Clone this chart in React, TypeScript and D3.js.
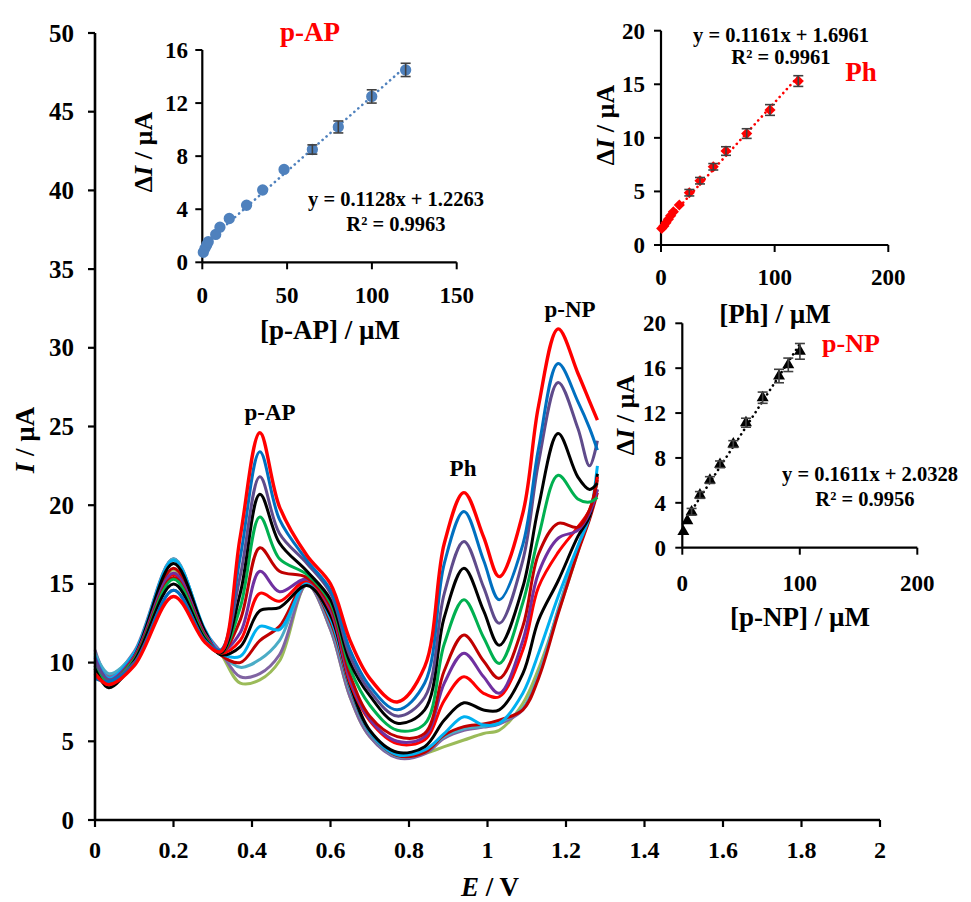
import React from 'react';
import * as d3 from 'd3';

const FONT = "'Liberation Serif', 'Times New Roman', Times, 'DejaVu Serif', serif";

// ---------- main voltammograms ----------
const potentials = [0, 0.035, 0.1, 0.2, 0.28, 0.32, 0.37, 0.42, 0.47, 0.54, 0.6, 0.65, 0.7, 0.77, 0.84, 0.89, 0.94, 0.99, 1.03, 1.09, 1.13, 1.18, 1.23, 1.26, 1.28];

const c01 = [10.2, 9.2, 10.6, 15.9, 11.9, 10.6, 8.7, 8.9, 10.1, 15.0, 12.1, 7.8, 5.3, 4.0, 4.24, 4.66, 5.08, 5.5, 5.7, 7.4, 9.6, 13.2, 17.0, 19.5, 21.0];
const c02 = [10.8, 9.1, 10.7, 16.6, 12.0, 10.7, 9.1, 9.3, 10.5, 15.0, 12.1, 7.8, 5.3, 3.95, 4.2, 5.2, 5.7, 5.9, 6.1, 7.0, 9.2, 13.3, 17.3, 19.5, 21.0];
const c03 = [10.6, 9.3, 10.6, 16.6, 12.0, 10.6, 9.7, 10.2, 11.4, 15.1, 12.4, 8.2, 5.5, 4.05, 4.3, 5.3, 5.8, 5.95, 6.2, 7.1, 9.2, 13.4, 17.2, 19.2, 21.8];
const c04 = [10.0, 8.9, 10.5, 16.0, 11.9, 10.5, 10.0, 11.4, 12.3, 15.1, 12.6, 8.4, 5.6, 4.1, 4.3, 5.4, 5.93, 6.1, 6.35, 7.0, 9.0, 13.1, 17.0, 19.1, 20.8];
const c05 = [10.4, 9.0, 10.6, 16.5, 12.1, 10.6, 10.4, 12.3, 12.1, 15.1, 12.8, 8.5, 5.6, 4.15, 4.45, 5.5, 6.56, 6.03, 6.14, 8.05, 10.6, 14.2, 17.4, 19.3, 22.5];
const c06 = [9.8, 8.6, 10.4, 16.3, 12.0, 10.5, 11.0, 13.3, 13.5, 14.9, 13.0, 8.6, 5.7, 4.3, 4.66, 6.35, 7.45, 6.99, 7.0, 9.3, 12.7, 15.2, 18.0, 19.3, 22.0];
const c07 = [9.6, 8.8, 10.3, 15.6, 11.8, 10.6, 11.4, 14.4, 13.9, 15.2, 13.3, 8.7, 6.3, 4.85, 5.1, 7.6, 9.1, 8.05, 7.83, 10.8, 14.8, 17.0, 18.6, 19.7, 21.8];
const c08 = [10.3, 8.9, 10.4, 15.7, 11.8, 10.7, 11.9, 15.8, 14.5, 15.3, 13.4, 8.9, 6.4, 5.0, 5.3, 8.7, 10.6, 9.1, 8.05, 11.4, 15.7, 17.9, 18.4, 19.5, 21.0];
const c09 = [9.5, 8.7, 10.3, 15.4, 11.7, 10.6, 12.7, 17.3, 15.8, 15.4, 13.6, 9.2, 6.6, 5.3, 5.5, 9.5, 11.75, 10.1, 9.0, 12.3, 16.9, 18.85, 18.6, 19.7, 21.6];
const c10 = [9.7, 8.8, 10.2, 15.3, 11.6, 10.6, 13.5, 19.25, 16.6, 15.6, 13.8, 9.6, 7.3, 5.7, 6.1, 11.2, 14.0, 11.6, 9.95, 13.8, 18.0, 21.9, 20.4, 20.2, 20.5];
const c11 = [9.6, 8.4, 10.1, 15.0, 11.5, 10.6, 14.4, 20.7, 17.6, 15.8, 14.0, 10.0, 7.9, 6.15, 7.0, 12.9, 16.0, 13.3, 11.1, 14.8, 19.9, 24.55, 21.8, 21.0, 21.4];
const c12 = [10.1, 8.9, 10.0, 14.6, 11.4, 10.7, 15.5, 21.8, 18.2, 16.3, 14.4, 10.4, 8.2, 6.6, 7.8, 14.4, 17.7, 14.8, 12.5, 16.5, 22.7, 27.8, 24.9, 22.5, 24.1];
const c13 = [9.0, 8.8, 9.9, 14.6, 11.4, 10.8, 16.7, 23.4, 19.1, 16.5, 14.6, 10.8, 8.5, 7.0, 8.7, 16.3, 19.6, 16.5, 14.0, 17.5, 23.6, 29.0, 26.6, 24.9, 23.5];
const c14 = [9.3, 8.6, 9.8, 14.2, 11.3, 10.7, 18.0, 24.6, 19.9, 16.8, 15.0, 11.4, 9.0, 7.5, 9.74, 17.58, 20.8, 17.99, 15.46, 19.5, 26.3, 31.2, 28.4, 26.6, 25.4];

const curveColors = ['#9BBB59', '#8064A2', '#4BACC6', '#C00000', '#00B0F0', '#000000', '#FF0000', '#7030A0', '#C00000', '#00B050', '#000000', '#5F4B8B', '#0070C0', '#FF0000'];

const xTicksMain = [0, 0.2, 0.4, 0.6, 0.8, 1, 1.2, 1.4, 1.6, 1.8, 2];
const yTicksMain = [0, 5, 10, 15, 20, 25, 30, 35, 40, 45, 50];

// ---------- inset 1: p-AP ----------
const papConc = [0.6, 1.6, 2.6, 3.5, 7.9, 10.4, 15.9, 26.1, 35.6, 48.2, 64.9, 80.2, 99.9, 119.9];
const papDI = [0.75, 1.05, 1.3, 1.55, 2.1, 2.65, 3.3, 4.3, 5.45, 7.0, 8.5, 10.2, 12.5, 14.5];
const papErr = [0.1, 0.1, 0.1, 0.1, 0.15, 0.15, 0.2, 0.2, 0.2, 0.25, 0.35, 0.45, 0.5, 0.5];
const papXTicks = [0, 50, 100, 150];
const papYTicks = [0, 4, 8, 12, 16];

// ---------- inset 2: Ph ----------
const phConc = [0.6, 2.6, 4.4, 6.5, 8.5, 10.9, 16.1, 24.9, 34.3, 46.0, 57.2, 75.4, 95.9, 120.8];
const phDI = [1.55, 1.77, 2.08, 2.4, 2.74, 3.1, 3.73, 4.88, 6.0, 7.3, 8.77, 10.4, 12.6, 15.3];
const phErr = [0.1, 0.1, 0.1, 0.1, 0.15, 0.15, 0.2, 0.3, 0.3, 0.3, 0.4, 0.45, 0.5, 0.5];
const phXTicks = [0, 100, 200];
const phYTicks = [0, 5, 10, 15, 20];

// ---------- inset 3: p-NP ----------
const pnpConc = [0.9, 4.3, 7.9, 15.0, 23.5, 32.1, 43.4, 54.2, 68.4, 82.3, 90.2, 100.1];
const pnpDI = [1.43, 2.4, 3.2, 4.7, 6.03, 7.43, 9.24, 11.14, 13.37, 15.3, 16.3, 17.5];
const pnpErr = [0.15, 0.2, 0.3, 0.3, 0.3, 0.3, 0.3, 0.4, 0.5, 0.6, 0.6, 0.7];
const pnpXTicks = [0, 100, 200];
const pnpYTicks = [0, 4, 8, 12, 16, 20];

const papFit = { slope: 0.1128, intercept: 1.2263 };
const phFit = { slope: 0.1161, intercept: 1.6961 };
const pnpFit = { slope: 0.1611, intercept: 2.0328 };

type InsetProps = {
  xs: number[]; ys: number[]; errs: number[];
  xDomain: [number, number]; yDomain: [number, number];
  xRange: [number, number]; yRange: [number, number];
  xTicks: number[]; yTicks: number[];
  fit: { slope: number; intercept: number };
  color: string; trendColor: string; marker: 'circle' | 'diamond' | 'triangle';
  yLabelX: number; xLabelY: number;
};

const txt = { fontFamily: FONT, fontWeight: 700 } as React.CSSProperties;

function Inset(p: InsetProps) {
  const sx = d3.scaleLinear().domain(p.xDomain).range(p.xRange);
  const sy = d3.scaleLinear().domain(p.yDomain).range(p.yRange);
  const x0 = p.xRange[0], x1 = p.xRange[1];
  const yb = p.yRange[0], yt = p.yRange[1];
  const xmin = d3.min(p.xs) as number;
  const xmax = d3.max(p.xs) as number;
  const sym =
    p.marker === 'diamond'
      ? d3.symbol().type(d3.symbolSquare).size(62)()
      : p.marker === 'triangle'
      ? d3.symbol().type(d3.symbolTriangle).size(62)()
      : d3.symbol().type(d3.symbolCircle).size(100)();
  return (
    <g>
      <line
        x1={sx(xmin)} y1={sy(p.fit.slope * xmin + p.fit.intercept)}
        x2={sx(xmax)} y2={sy(p.fit.slope * xmax + p.fit.intercept)}
        stroke={p.trendColor} strokeWidth={2.6} strokeDasharray="0.1,5.2" strokeLinecap="round"
      />
      <line x1={x0} y1={yb} x2={x0} y2={yt} stroke="#000" strokeWidth={2.2} />
      <line x1={x0} y1={yb} x2={x1} y2={yb} stroke="#000" strokeWidth={2.2} />
      {p.yTicks.map((t) => (
        <g key={'y' + t}>
          <line x1={x0 - 7} x2={x0} y1={sy(t)} y2={sy(t)} stroke="#000" strokeWidth={2} />
          <text x={p.yLabelX} y={sy(t) + 8} textAnchor="end" fontSize={23} style={txt}>{t}</text>
        </g>
      ))}
      {p.xTicks.map((t) => (
        <g key={'x' + t}>
          <line x1={sx(t)} x2={sx(t)} y1={yb} y2={yb + 7} stroke="#000" strokeWidth={2} />
          <text x={sx(t)} y={p.xLabelY} textAnchor="middle" fontSize={23} style={txt}>{t}</text>
        </g>
      ))}
      {p.xs.map((v, i) => (
        <g key={'p' + i}>
          <g transform={`translate(${sx(v)},${sy(p.ys[i])})${p.marker === 'diamond' ? ' rotate(45)' : ''}`}>
            <path d={sym as string} fill={p.color} />
          </g>
          {p.errs[i] >= 0.3 && (
            <g stroke="#404040" strokeWidth={1.6}>
              <line x1={sx(v)} x2={sx(v)} y1={sy(p.ys[i] - p.errs[i])} y2={sy(p.ys[i] + p.errs[i])} />
              <line x1={sx(v) - 5} x2={sx(v) + 5} y1={sy(p.ys[i] - p.errs[i])} y2={sy(p.ys[i] - p.errs[i])} />
              <line x1={sx(v) - 5} x2={sx(v) + 5} y1={sy(p.ys[i] + p.errs[i])} y2={sy(p.ys[i] + p.errs[i])} />
            </g>
          )}
        </g>
      ))}
    </g>
  );
}

function DeltaLabel({ x, y }: { x: number; y: number }) {
  return (
    <text transform={`translate(${x},${y}) rotate(-90)`} textAnchor="middle" fontSize={26} style={txt}>
      <tspan>Δ</tspan><tspan fontStyle="italic">I</tspan><tspan> / µA</tspan>
    </text>
  );
}

export default function App() {
  const x = d3.scaleLinear().domain([0, 2]).range([95, 880]);
  const y = d3.scaleLinear().domain([0, 50]).range([820, 33]);
  const series = [c01, c02, c03, c04, c05, c06, c07, c08, c09, c10, c11, c12, c13, c14];
  const line = d3
    .line<number>()
    .x((_, i) => x(potentials[i]))
    .y((d) => y(d))
    .curve(d3.curveCatmullRom.alpha(0.5));

  return (
    <svg width={971} height={902} style={{ position: 'absolute', left: 0, top: 0, background: '#fff', fontFamily: FONT }}>
      <rect width={971} height={902} fill="#fff" />
      {series.map((s, i) => (
        <path key={i} d={line(s) as string} fill="none" stroke={curveColors[i]} strokeWidth={i === 13 ? 3.4 : 3} strokeLinejoin="round" />
      ))}
      <line x1={95} y1={33} x2={95} y2={821} stroke="#000" strokeWidth={2.6} />
      <line x1={94} y1={820} x2={880} y2={820} stroke="#000" strokeWidth={2.6} />
      {yTicksMain.map((t) => (
        <g key={'my' + t}>
          <line x1={88} x2={95} y1={y(t)} y2={y(t)} stroke="#000" strokeWidth={2.2} />
          <text x={74} y={y(t) + 8.5} textAnchor="end" fontSize={25} style={txt}>{t}</text>
        </g>
      ))}
      {xTicksMain.map((t) => (
        <g key={'mx' + t}>
          <line x1={x(t)} x2={x(t)} y1={820} y2={827} stroke="#000" strokeWidth={2.2} />
          <text x={x(t)} y={858} textAnchor="middle" fontSize={24} style={txt}>{t}</text>
        </g>
      ))}
      <text x={490} y={896} textAnchor="middle" fontSize={27} style={txt}>
        <tspan fontStyle="italic">E</tspan><tspan> / V</tspan>
      </text>
      <text transform="translate(34,440) rotate(-90)" textAnchor="middle" fontSize={27} style={txt}>
        <tspan fontStyle="italic">I</tspan><tspan> / µA</tspan>
      </text>
      <text x={270} y={420} textAnchor="middle" fontSize={23} style={txt}>p-AP</text>
      <text x={463} y={476} textAnchor="middle" fontSize={23} style={txt}>Ph</text>
      <text x={570} y={317} textAnchor="middle" fontSize={23} style={txt}>p-NP</text>

      <Inset xs={papConc} ys={papDI} errs={papErr} xDomain={[0, 150]} yDomain={[0, 16]} xRange={[202.3, 456.7]} yRange={[262.3, 50]}
        xTicks={papXTicks} yTicks={papYTicks} fit={papFit} color="#4F81BD" trendColor="#4F81BD" marker="circle" yLabelX={188} xLabelY={303} />
      <text x={310} y={41} textAnchor="middle" fontSize={27} style={txt} fill="#FF0000">p-AP</text>
      <text x={396} y={206} textAnchor="middle" fontSize={20.5} style={txt}>y = 0.1128x + 1.2263</text>
      <text x={396} y={231} textAnchor="middle" fontSize={20.5} style={txt}>R² = 0.9963</text>
      <text x={330} y={339} textAnchor="middle" fontSize={27} style={txt}>[p-AP] / µM</text>
      <DeltaLabel x={152} y={152} />

      <Inset xs={phConc} ys={phDI} errs={phErr} xDomain={[0, 200]} yDomain={[0, 20]} xRange={[661, 888.3]} yRange={[245, 30.7]}
        xTicks={phXTicks} yTicks={phYTicks} fit={phFit} color="#FF0000" trendColor="#FF0000" marker="diamond" yLabelX={645} xLabelY={285} />
      <text x={781} y={42} textAnchor="middle" fontSize={20.5} style={txt}>y = 0.1161x + 1.6961</text>
      <text x={781} y={64} textAnchor="middle" fontSize={20.5} style={txt}>R² = 0.9961</text>
      <text x={861} y={81} textAnchor="middle" fontSize={27} style={txt} fill="#FF0000">Ph</text>
      <text x={775} y={323} textAnchor="middle" fontSize={27} style={txt}>[Ph] / µM</text>
      <DeltaLabel x={614} y={125} />

      <Inset xs={pnpConc} ys={pnpDI} errs={pnpErr} xDomain={[0, 200]} yDomain={[0, 20]} xRange={[682.3, 917.3]} yRange={[547.7, 323.3]}
        xTicks={pnpXTicks} yTicks={pnpYTicks} fit={pnpFit} color="#000000" trendColor="#000000" marker="triangle" yLabelX={666} xLabelY={591} />
      <text x={851} y={352} textAnchor="middle" fontSize={26} style={txt} fill="#FF0000">p-NP</text>
      <text x={870} y={481} textAnchor="middle" fontSize={20.5} style={txt}>y = 0.1611x + 2.0328</text>
      <text x={865} y={506} textAnchor="middle" fontSize={20.5} style={txt}>R² = 0.9956</text>
      <text x={800} y={626} textAnchor="middle" fontSize={27} style={txt}>[p-NP] / µM</text>
      <DeltaLabel x={634} y={415} />
    </svg>
  );
}
